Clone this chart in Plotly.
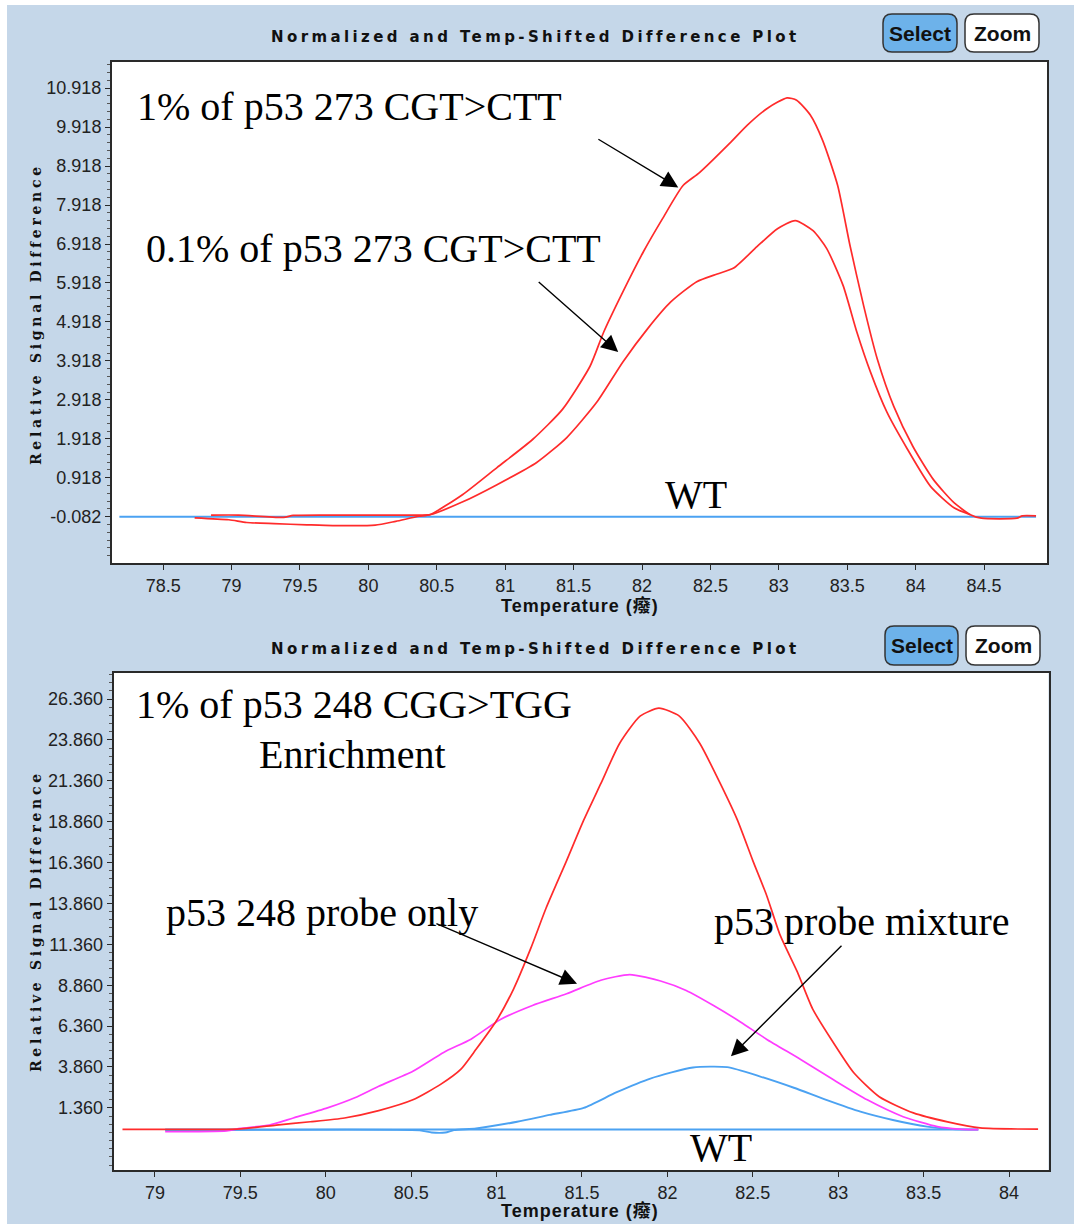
import plotly.graph_objects as go

W, H = 1074, 1224

# ---------------- data: top panel (p53 273 CGT>CTT) ----------------
top_t_1pct = [78.73, 78.98, 79.11, 79.31, 79.55, 79.74, 80.05, 80.20, 80.37, 80.45,
              80.69, 80.94, 81.20, 81.42, 81.62, 81.72, 81.86, 82.01, 82.15, 82.30,
              82.42, 82.64, 82.77, 82.92, 83.06, 83.13, 83.23, 83.32, 83.43, 83.52,
              83.62, 83.72, 83.84, 83.98, 84.13, 84.28, 84.40, 84.48, 84.74, 84.78, 84.88]
top_v_1pct = [-0.11, -0.16, -0.23, -0.26, -0.29, -0.31, -0.30, -0.20, -0.07, -0.03,
              0.49, 1.18, 1.90, 2.68, 3.78, 4.66, 5.69, 6.72, 7.57, 8.42,
              8.75, 9.50, 9.97, 10.41, 10.67, 10.61, 10.23, 9.58, 8.42, 6.88,
              5.33, 3.96, 2.75, 1.72, 0.87, 0.28, -0.03, -0.12, -0.12, -0.06, -0.06]

top_t_01pct = [78.85, 79.05, 79.38, 79.45, 79.70, 80.35, 80.45, 80.69, 80.94, 81.23,
               81.45, 81.67, 81.86, 82.04, 82.21, 82.40, 82.55, 82.67, 82.84, 82.99,
               83.12, 83.25, 83.35, 83.47, 83.57, 83.67, 83.79, 83.94, 84.11, 84.28, 84.40]
top_v_01pct = [-0.04, -0.04, -0.10, -0.05, -0.04, -0.04, -0.03, 0.30, 0.74, 1.31,
               1.95, 2.86, 3.89, 4.74, 5.43, 5.95, 6.15, 6.30, 6.85, 7.31,
               7.52, 7.26, 6.80, 5.85, 4.66, 3.63, 2.60, 1.65, 0.69, 0.15, -0.03]

top_t_wt = [78.18, 84.88]
top_v_wt = [-0.082, -0.082]

top_xticks = [78.5, 79, 79.5, 80, 80.5, 81, 81.5, 82, 82.5, 83, 83.5, 84, 84.5]
top_xlabels = ["78.5", "79", "79.5", "80", "80.5", "81", "81.5", "82", "82.5", "83", "83.5", "84", "84.5"]
top_yticks = [-0.082, 0.918, 1.918, 2.918, 3.918, 4.918, 5.918, 6.918, 7.918, 8.918, 9.918, 10.918]
top_ylabels = ["-0.082", "0.918", "1.918", "2.918", "3.918", "4.918", "5.918", "6.918",
               "7.918", "8.918", "9.918", "10.918"]

# ---------------- data: bottom panel (p53 248 CGG>TGG) ----------------
bot_t_1pct = [78.81, 79.50, 79.71, 79.91, 80.11, 80.31, 80.51, 80.67, 80.79, 80.88,
              81.00, 81.10, 81.20, 81.29, 81.41, 81.51, 81.61, 81.72, 81.84, 81.95,
              82.07, 82.19, 82.31, 82.41, 82.50, 82.58, 82.66, 82.76, 82.85, 82.97,
              83.09, 83.24, 83.44, 83.64, 83.83, 84.17]
bot_v_1pct = [0.05, 0.08, 0.31, 0.51, 0.74, 1.19, 1.85, 2.78, 3.71, 4.94,
              6.70, 8.64, 11.11, 13.58, 16.48, 18.95, 21.18, 23.64, 25.31, 25.80,
              25.31, 23.64, 21.18, 18.95, 16.48, 14.38, 11.92, 9.69, 7.41, 5.37,
              3.52, 2.04, 1.05, 0.50, 0.13, 0.06]

bot_t_probe = [79.06, 79.42, 79.50, 79.67, 79.81, 80.01, 80.17, 80.31, 80.51, 80.69,
               80.85, 81.02, 81.21, 81.41, 81.61, 81.78, 81.96, 82.11, 82.27, 82.43,
               82.58, 82.78, 82.97, 83.17, 83.38, 83.58, 83.71, 83.82]
bot_v_probe = [-0.10, -0.05, 0.10, 0.31, 0.74, 1.36, 1.98, 2.68, 3.60, 4.75,
               5.56, 6.75, 7.62, 8.34, 9.16, 9.51, 9.12, 8.54, 7.62, 6.60,
               5.56, 4.32, 3.09, 1.85, 0.82, 0.21, 0.06, 0.03]

bot_t_mix = [79.06, 80.55, 80.62, 80.70, 80.75, 80.88, 81.12, 81.31, 81.51, 81.70,
             81.90, 82.15, 82.35, 82.54, 82.74, 82.93, 83.13, 83.32, 83.52, 83.67, 83.82]
bot_v_mix = [-0.02, -0.02, -0.15, -0.15, 0.00, 0.10, 0.51, 0.93, 1.36, 2.30,
             3.15, 3.83, 3.85, 3.29, 2.59, 1.85, 1.13, 0.62, 0.21, 0.06, 0.03]

bot_t_wt = [79.06, 83.82]
bot_v_wt = [0.03, 0.03]

bot_xticks = [79, 79.5, 80, 80.5, 81, 81.5, 82, 82.5, 83, 83.5, 84]
bot_xlabels = ["79", "79.5", "80", "80.5", "81", "81.5", "82", "82.5", "83", "83.5", "84"]
bot_yticks = [1.36, 3.86, 6.36, 8.86, 11.36, 13.86, 16.36, 18.86, 21.36, 23.86, 26.36]
bot_ylabels = ["1.360", "3.860", "6.360", "8.860", "11.360", "13.860", "16.360",
               "18.860", "21.360", "23.860", "26.360"]

RED = "#ff2b2b"
MAGENTA = "#ff3cff"
BLUE = "#4ba2f2"
BG = "#c5d7e9"
AXC = "#2a2a2a"

fig = go.Figure()

def line(x, y, color, width, ax, smooth=True):
    ln = dict(color=color, width=width)
    if smooth:
        ln.update(shape="spline", smoothing=0.6)
    fig.add_trace(go.Scatter(x=x, y=y, mode="lines", line=ln,
                             xaxis=ax[0], yaxis=ax[1], showlegend=False, hoverinfo="skip"))

line(top_t_wt, top_v_wt, BLUE, 2, ("x", "y"), False)
line(top_t_1pct, top_v_1pct, RED, 1.7, ("x", "y"))
line(top_t_01pct, top_v_01pct, RED, 1.7, ("x", "y"))

line(bot_t_wt, bot_v_wt, BLUE, 2, ("x2", "y2"), False)
line(bot_t_mix, bot_v_mix, BLUE, 1.9, ("x2", "y2"))
line(bot_t_probe, bot_v_probe, MAGENTA, 1.7, ("x2", "y2"))
line(bot_t_1pct, bot_v_1pct, RED, 1.7, ("x2", "y2"))

tickfont = dict(family="Liberation Sans, Arial", size=18, color="#222")

def xaxis(domain, rng, vals, labels, anchor):
    return dict(domain=domain, range=rng, anchor=anchor, tickmode="array", tickvals=vals,
                ticktext=labels, showline=True, mirror=True, linecolor=AXC, linewidth=2,
                ticks="outside", ticklen=5, tickwidth=1, tickcolor=AXC, showgrid=False,
                zeroline=False, tickfont=tickfont, fixedrange=True)

def yaxis(domain, rng, vals, labels, anchor, t0, dt):
    return dict(domain=domain, range=rng, anchor=anchor, tickmode="array", tickvals=vals,
                ticktext=labels, showline=True, mirror=True, linecolor=AXC, linewidth=2,
                ticks="outside", ticklen=5, tickwidth=1, tickcolor=AXC, showgrid=False,
                zeroline=False, tickfont=tickfont, fixedrange=True,
                minor=dict(ticks="outside", ticklen=3, tickwidth=1, tickcolor="#555",
                           tick0=t0, dtick=dt, showgrid=False))

def px(x):
    return x / W

def py(y):
    return 1 - y / H

annotations = []
shapes = []

# white outer strips
shapes.append(dict(type="rect", xref="paper", yref="paper", x0=0, x1=px(7), y0=0, y1=1,
                   fillcolor="white", line=dict(width=0), layer="below"))
shapes.append(dict(type="rect", xref="paper", yref="paper", x0=0, x1=1, y0=py(5), y1=1,
                   fillcolor="white", line=dict(width=0), layer="below"))


def rounded(x0, y0, x1, y1, r, fill):
    X0, X1 = px(x0), px(x1)
    Y0, Y1 = py(y0), py(y1)
    rx, ry = r / W, r / H
    path = (f"M {X0+rx} {Y0} L {X1-rx} {Y0} Q {X1} {Y0} {X1} {Y0-ry} "
            f"L {X1} {Y1+ry} Q {X1} {Y1} {X1-rx} {Y1} L {X0+rx} {Y1} "
            f"Q {X0} {Y1} {X0} {Y1+ry} L {X0} {Y0-ry} Q {X0} {Y0} {X0+rx} {Y0} Z")
    shapes.append(dict(type="path", xref="paper", yref="paper", path=path, fillcolor=fill,
                       line=dict(color="#333", width=1.5)))


def button(x0, y0, x1, y1, label, fill):
    rounded(x0, y0, x1, y1, 9, fill)
    annotations.append(dict(xref="paper", yref="paper", x=px((x0 + x1) / 2), y=py((y0 + y1) / 2),
                            text=f"<b>{label}</b>", showarrow=False, xanchor="center", yanchor="middle",
                            font=dict(family="Liberation Sans, Arial", size=21, color="#111")))


TITLE = "Normalized and Temp-Shifted Difference Plot"
YTITLE = "Relative Signal Difference"
XTITLE = "Temperature (癈)"

for (ty, sel, xt_y, yt_y) in [(37, (883, 14, 957, 52), 605, 314), (649, (885, 626, 958, 665), 1210, 921)]:
    annotations.append(dict(xref="paper", yref="paper", x=px(535), y=py(ty),
                            text=f'<span style="letter-spacing:3.4px"><b>{TITLE}</b></span>',
                            showarrow=False, xanchor="center", yanchor="middle",
                            font=dict(family="DejaVu Sans", size=15, color="#111")))
    annotations.append(dict(xref="paper", yref="paper", x=px(36), y=py(yt_y), textangle=-90,
                            text=f'<span style="letter-spacing:3.7px"><b>{YTITLE}</b></span>',
                            showarrow=False, xanchor="center", yanchor="middle",
                            font=dict(family="DejaVu Serif", size=14, color="#111")))
    annotations.append(dict(xref="paper", yref="paper", x=px(580), y=py(xt_y),
                            text=f'<span style="letter-spacing:1px"><b>{XTITLE}</b></span>',
                            showarrow=False, xanchor="center", yanchor="middle",
                            font=dict(family="Liberation Sans, Noto Sans CJK SC", size=18, color="#111")))
    button(sel[0], sel[1], sel[2], sel[3], "Select", "#6db2ea")
    button(sel[2] + 8, sel[1], sel[2] + 82, sel[3], "Zoom", "white")

SERIF = dict(family="Liberation Serif, Times New Roman", size=40, color="black")


def label(text, x, y, xr, yr):
    annotations.append(dict(xref=xr, yref=yr, x=x, y=y, text=text, showarrow=False,
                            xanchor="center", yanchor="middle", font=SERIF))


def arrow(xh, yh, xt, yt, xr, yr):
    annotations.append(dict(xref=xr, yref=yr, x=xh, y=yh, ax=xt, ay=yt, axref=xr, ayref=yr,
                            text="", showarrow=True, arrowhead=2, arrowsize=2.4, arrowwidth=1.4,
                            arrowcolor="black"))


label("1% of p53 273 CGT&gt;CTT", 79.86, 10.45, "x", "y")
label("0.1% of p53 273 CGT&gt;CTT", 80.04, 6.80, "x", "y")
label("WT", 82.396, 0.48, "x", "y")
arrow(82.265, 8.37, 81.67, 9.63, "x", "y")
arrow(81.826, 4.145, 81.234, 5.975, "x", "y")

label("1% of p53 248 CGG&gt;TGG", 80.168, 26.0, "x2", "y2")
label("Enrichment", 80.159, 22.95, "x2", "y2")
label("p53 248 probe only", 79.978, 13.32, "x2", "y2")
label("p53 probe mixture", 83.142, 12.77, "x2", "y2")
label("WT", 82.311, -1.06, "x2", "y2")
arrow(81.471, 8.95, 80.639, 12.66, "x2", "y2")
arrow(82.372, 4.51, 83.028, 11.36, "x2", "y2")

fig.update_layout(
    width=W, height=H, margin=dict(l=0, r=0, t=0, b=0),
    paper_bgcolor=BG, plot_bgcolor="white", showlegend=False,
    xaxis=xaxis([px(112), px(1047)], [78.126, 84.96], top_xticks, top_xlabels, "y"),
    yaxis=yaxis([1 - 563 / H, 1 - 62 / H], [-1.27, 11.59], top_yticks, top_ylabels, "x", -0.082, 0.2),
    xaxis2=xaxis([px(113.6), px(1048.5)], [78.758, 84.231], bot_xticks, bot_xlabels, "y2"),
    yaxis2=yaxis([1 - 1170 / H, 1 - 673 / H], [-2.44, 27.95], bot_yticks, bot_ylabels, "x2", 1.36, 0.5),
    annotations=annotations, shapes=shapes,
)

fig.write_html("out.html")
